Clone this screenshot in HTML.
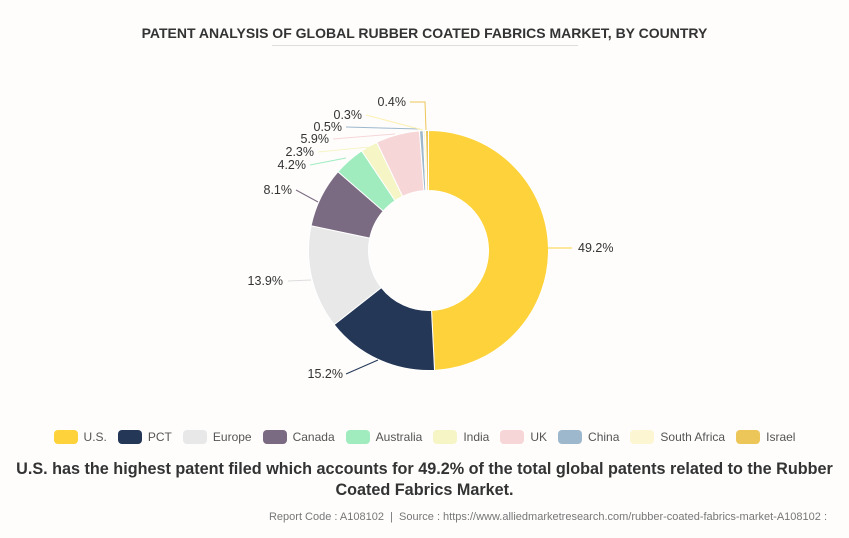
<!DOCTYPE html>
<html><head><meta charset="utf-8"><style>
body{margin:0;width:849px;height:538px;background:#fefdfc;font-family:"Liberation Sans",sans-serif;overflow:hidden;position:relative}
.t{position:absolute;top:25px;left:0;width:849px;text-align:center;font-weight:bold;font-size:14px;color:#333}
.ul{position:absolute;top:45px;left:272px;width:306px;height:1px;background:#ddd}
.leg{position:absolute;top:430px;left:0;width:849px;text-align:center;font-size:12px;color:#555;white-space:nowrap}
.leg span{display:inline-block;margin:0 5.5px}
.leg i{display:inline-block;width:24px;height:14px;border-radius:4px;vertical-align:-3px;margin-right:6px}
.cap{position:absolute;top:459px;left:0;width:849px;text-align:center;font-weight:bold;font-size:16.2px;line-height:21px;color:#333}
.src{position:absolute;top:511px;right:22px;font-size:11px;color:#777}
</style></head><body>
<div class="t">PATENT ANALYSIS OF GLOBAL RUBBER COATED FABRICS MARKET, BY COUNTRY</div>
<div class="ul"></div>
<svg id="s" width="849" height="538" style="position:absolute;left:0;top:0" font-family="Liberation Sans, sans-serif" font-size="12.5" fill="#333"></svg>
<div class="leg">
<span><i style="background:#fed23a"></i>U.S.</span><span><i style="background:#243757"></i>PCT</span><span><i style="background:#e8e8e8"></i>Europe</span><span><i style="background:#7b6b82"></i>Canada</span><span><i style="background:#a0ecbf"></i>Australia</span><span><i style="background:#f5f5c6"></i>India</span><span><i style="background:#f7d6d8"></i>UK</span><span><i style="background:#9db8cd"></i>China</span><span><i style="background:#fdf6d2"></i>South Africa</span><span><i style="background:#ecc658"></i>Israel</span>
</div>
<div class="cap">U.S. has the highest patent filed which accounts for 49.2% of the total global patents related to the Rubber<br>Coated Fabrics Market.</div>
<div class="src">Report Code : A108102 &nbsp;|&nbsp; Source : https://www.alliedmarketresearch.com/rubber-coated-fabrics-market-A108102 :</div>
<script>
var d=[[49.2,"#fed23a"],[15.2,"#243757"],[13.9,"#e8e8e8"],[8.1,"#7b6b82"],[4.2,"#a0ecbf"],[2.3,"#f5f5c6"],[5.9,"#f7d6d8"],[0.5,"#9db8cd"],[0.3,"#fdf6d2"],[0.4,"#ecc658"]];
var cx=428.5,cy=250.5,R=120,r=60,a=0,h="";
function p(rr,t){return [cx+rr*Math.sin(t),cy-rr*Math.cos(t)]}
d.forEach(function(e){var a0=a/100*2*Math.PI;a+=e[0];var a1=a/100*2*Math.PI;var L=(a1-a0)>Math.PI?1:0;
var A=p(R,a0),B=p(R,a1),C=p(r,a1),D=p(r,a0);
h+='<path d="M'+A+'A'+R+','+R+' 0 '+L+' 1 '+B+'L'+C+'A'+r+','+r+' 0 '+L+' 0 '+D+'Z" fill="'+e[1]+'" stroke="#fff" stroke-width="1"/>';});
var lb=[["49.2%",548,248,572,248,578,252,"start","#fed23a"],["15.2%",378,360,346,374,343,378,"end","#243757"],["13.9%",311,280,288,281,283,285,"end","#ddd"],["8.1%",318,202,296,190,292,194,"end","#7b6b82"],["4.2%",346,158,310,165,306,169,"end","#a0ecbf"],["2.3%",370,147,318,152,314,156,"end","#f5f5c6"],["5.9%",395,134,333,139,329,143,"end","#f7d6d8"],["0.5%",420,129,346,127,342,131,"end","#9db8cd"],["0.3%",423,130,366,115,362,119,"end","#fdf0b0"]];
lb.forEach(function(l){h+='<polyline points="'+l[1]+','+l[2]+' '+l[3]+','+l[4]+'" fill="none" stroke="'+l[8]+'"/><text x="'+l[5]+'" y="'+l[6]+'" text-anchor="'+l[7]+'">'+l[0]+'</text>';});
h+='<polyline points="426,130 425,102 410,102" fill="none" stroke="#ecc658"/><text x="406" y="106" text-anchor="end">0.4%</text>';
document.getElementById("s").innerHTML=h;
</script>
</body></html>
